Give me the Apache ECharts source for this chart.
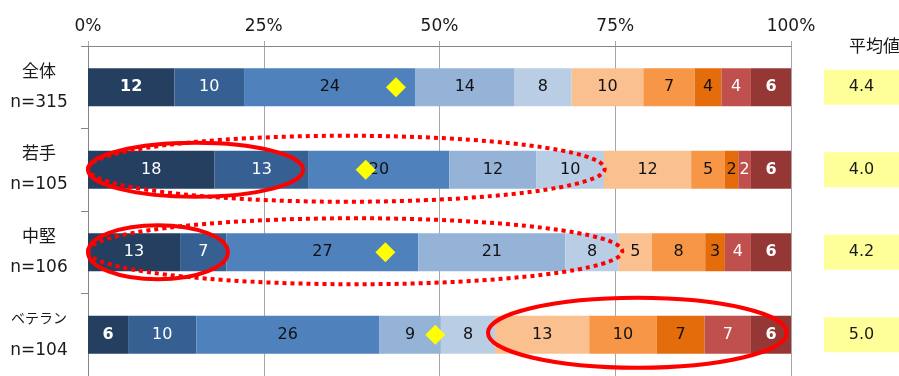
<!DOCTYPE html>
<html><head><meta charset="utf-8">
<script src="https://cdn.jsdelivr.net/npm/echarts@6/dist/echarts.min.js"></script>
<style>html,body{margin:0;padding:0;background:#fff}#c{width:899px;height:376px}</style>
</head><body><div id="c"></div>
<script>
// ---- data (percent of respondents per answer bucket) ----
const groups = ['全体', '若手', '中堅', 'ベテラン'];
const sampleSizes = ['n=315', 'n=105', 'n=106', 'n=104'];
const xTicks = [0, 25, 50, 75, 100];
const seg1  = [12.3, 18.0, 13.1, 5.7];
const seg2  = [9.9, 13.4, 6.6, 9.7];
const seg3  = [24.4, 20.0, 27.3, 26.0];
const seg4  = [14.0, 12.4, 20.9, 8.8];
const seg5  = [8.2, 9.6, 7.6, 7.7];
const seg6  = [10.2, 12.4, 4.7, 13.4];
const seg7  = [7.3, 4.8, 7.6, 9.6];
const seg8  = [3.8, 1.9, 2.8, 6.8];
const seg9  = [4.2, 1.8, 3.7, 6.6];
const seg10 = [5.7, 5.7, 5.7, 5.7];
const averages = [4.4, 4.0, 4.2, 5.0];
const averageMarkerPct = [43.8, 39.5, 42.3, 49.4];
const averageHeader = '平均値';
// annotations (row index, start %, end %)
const highlightRows   = [1, 1, 2, 2, 3];
const highlightStart  = [0, 0, 0, 0, 56.9];
const highlightEnd    = [30.6, 73.5, 19.9, 76.0, 99.4];
const highlightDotted = [false, true, false, true, false];

// ---- styling ----
const segments = [seg1, seg2, seg3, seg4, seg5, seg6, seg7, seg8, seg9, seg10];
const colors = ['#243F60', '#376092', '#4F81BD', '#95B3D7', '#B9CDE5',
                '#FAC090', '#F79646', '#E46C0A', '#C0504D', '#953735'];
const labelColors = ['#fff', '#fff', '#111', '#111', '#111', '#111', '#111', '#111', '#fff', '#fff'];
const FONT = "'DejaVu Sans', 'Noto Sans CJK JP', sans-serif";
function isBold(seriesIdx, row) {
  if (seriesIdx === 9) return true;
  if (seriesIdx === 0 && (row === 0 || row === 3)) return true;
  return false;
}

const chart = echarts.init(document.getElementById('c'), null, {renderer: 'canvas'});

const barSeries = segments.map((arr, i) => ({
  type: 'bar', stack: 'total', xAxisIndex: 0, yAxisIndex: 0,
  barWidth: 38,
  data: arr.map((v, r) => ({value: v, label: {fontWeight: isBold(i, r) ? 'bold' : 'normal'}})),
  itemStyle: {color: colors[i]},
  label: {
    show: true, position: 'inside', color: labelColors[i],
    fontFamily: FONT, fontSize: 16,
    formatter: p => String(Math.round(p.value))
  },
  emphasis: {disabled: true}
}));

const option = {
  animation: false,
  title: {
    text: averageHeader, left: 844, top: 34,
    textStyle: {fontFamily: FONT, fontSize: 17, fontWeight: 'normal', color: '#1a1a1a'}
  },
  grid: [
    {left: 88, top: 46, width: 703, height: 336},
    {left: 824, top: 46, width: 86, height: 336}
  ],
  xAxis: [
    {
      type: 'value', gridIndex: 0, position: 'top', min: 0, max: 100, interval: 25,
      axisLine: {show: true, lineStyle: {color: '#868686', width: 1}},
      axisTick: {show: true, length: 5, lineStyle: {color: '#A6A6A6'}},
      splitLine: {show: true, lineStyle: {color: '#A6A6A6', width: 1}},
      axisLabel: {
        margin: 11, fontFamily: FONT, fontSize: 17, color: '#1a1a1a',
        formatter: v => (xTicks.indexOf(v) >= 0 ? v + '%' : '')
      }
    },
    {
      type: 'value', gridIndex: 1, min: 0, max: 1, show: false
    }
  ],
  yAxis: [
    {
      type: 'category', gridIndex: 0, inverse: true, data: groups,
      axisLine: {show: true, lineStyle: {color: '#868686'}},
      axisTick: {show: true, length: 7, lineStyle: {color: '#868686'}},
      axisLabel: {
        margin: 49, align: 'center',
        formatter: (v, i) => (v.length > 2 ? '{c|' + v + '}' : '{a|' + v + '}') + '\n{b|' + sampleSizes[i] + '}',
        rich: {
          a: {fontFamily: FONT, fontSize: 17, color: '#1a1a1a', lineHeight: 30, align: 'center'},
          c: {fontFamily: FONT, fontSize: 14, color: '#1a1a1a', lineHeight: 32, align: 'center'},
          b: {fontFamily: FONT, fontSize: 17, color: '#1a1a1a', lineHeight: 30, align: 'center'}
        }
      }
    },
    {
      type: 'category', gridIndex: 1, inverse: true, data: groups, show: false
    }
  ],
  series: barSeries.concat([
    {
      type: 'scatter', xAxisIndex: 0, yAxisIndex: 0, z: 5,
      symbol: 'diamond', symbolSize: 20,
      itemStyle: {color: '#FFFF00', opacity: 1},
      data: averageMarkerPct.map((v, i) => [v, i]),
      emphasis: {disabled: true}
    },
    {
      type: 'bar', xAxisIndex: 1, yAxisIndex: 1, barWidth: 35,
      itemStyle: {color: '#FFFF99'},
      data: averages.map(v => ({value: 1, avg: v})),
      label: {
        show: true, position: 'inside', color: '#1a1a1a',
        fontFamily: FONT, fontSize: 16,
        formatter: p => averages[p.dataIndex].toFixed(1)
      },
      emphasis: {disabled: true}
    }
  ])
};

chart.setOption(option);

// red highlight ellipses, positioned through the chart's own scales
const ellipses = highlightRows.map((row, k) => {
  const p0 = chart.convertToPixel({gridIndex: 0}, [highlightStart[k], row]);
  const p1 = chart.convertToPixel({gridIndex: 0}, [highlightEnd[k], row]);
  const dotted = highlightDotted[k];
  return {
    type: 'ellipse', z: 100, silent: true,
    shape: {
      cx: (p0[0] + p1[0]) / 2,
      cy: p0[1] + (dotted ? -1 : (row === 3 ? -2 : 0)),
      rx: (p1[0] - p0[0]) / 2,
      ry: dotted ? 33 : (row === 3 ? 35 : 27)
    },
    style: {
      fill: null, stroke: '#FF0000', lineWidth: 4,
      lineDash: dotted ? [4, 4] : null
    }
  };
});
chart.setOption({graphic: ellipses});
</script>
</body></html>
